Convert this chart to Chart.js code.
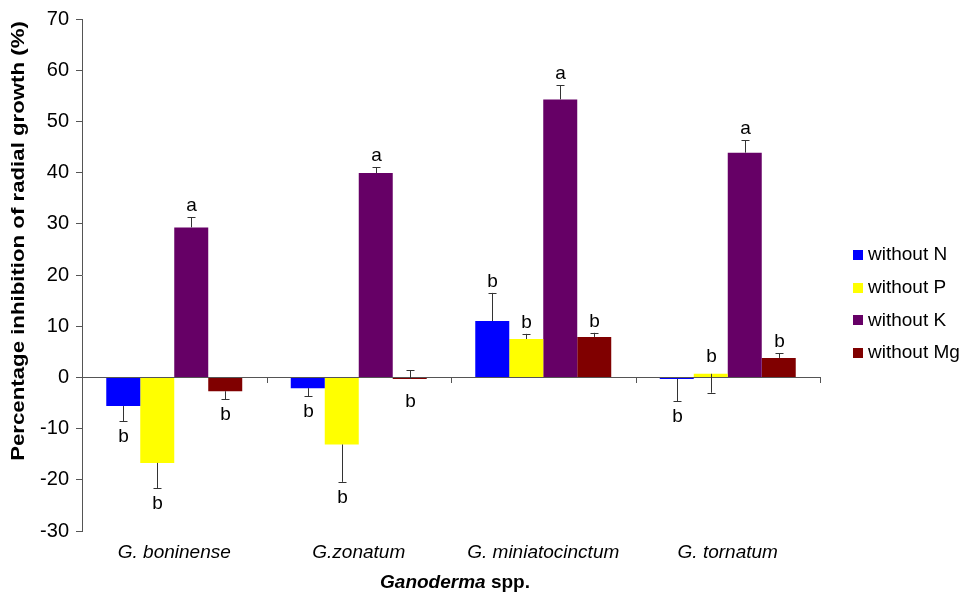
<!DOCTYPE html>
<html>
<head>
<meta charset="utf-8">
<script src="https://cdn.jsdelivr.net/npm/chart.js@4.4.0/dist/chart.umd.min.js"></script>
<style>
  html, body { margin: 0; padding: 0; background: #fff; }
  canvas { display: block; }
</style>
</head>
<body>
<canvas id="inhibitionChart" width="966" height="595"></canvas>
<script>
const species = ['G. boninense', 'G.zonatum', 'G. miniatocinctum', 'G. tornatum']
const seriesNames = ['without N', 'without P', 'without K', 'without Mg']
const colors = ['#0000ff', '#ffff00', '#660066', '#800000']

// mean inhibition (%) per species
const withoutN = [-5.6, -2.1, 11.0, -0.3]
const withoutP = [-16.7, -13.1, 7.5, 0.7]
const withoutK = [29.3, 39.9, 54.3, 43.9]
const withoutMg = [-2.7, -0.3, 7.9, 3.8]

// error bars, signed: negative means drawn downward
const errN = [-3.0, -1.6, 5.5, -4.4]
const errP = [-4.9, -7.3, 1.0, -3.7]
const errK = [2.0, 1.1, 2.8, 2.4]
const errMg = [-1.6, 1.7, 0.8, 0.9]

const lettersN = ['b', 'b', 'b', 'b']
const lettersP = ['b', 'b', 'b', 'b']
const lettersK = ['a', 'a', 'a', 'a']
const lettersMg = ['b', 'b', 'b', 'b']

const yMin = -30
const yMax = 70
const yStep = 10

const FONT = "'Liberation Sans', Arial, sans-serif"
const TEXT = '#000'

const values = [withoutN, withoutP, withoutK, withoutMg]
const errors = [errN, errP, errK, errMg]
const letters = [lettersN, lettersP, lettersK, lettersMg]

const datasets = seriesNames.map((name, i) => ({
    label: name,
    data: values[i],
    errors: errors[i],
    letters: letters[i],
    backgroundColor: colors[i],
    borderWidth: 0,
    categoryPercentage: 0.737,
    barPercentage: 1.0
}))

// zero line with tick marks between the species groups
const zeroLine = {
    id: 'zeroLine',
    beforeDatasetsDraw(chart) {
        const ctx = chart.ctx
        const area = chart.chartArea
        const y0 = chart.scales.y.getPixelForValue(0)
        const xs = chart.scales.x
        const half = (xs.getPixelForValue(1) - xs.getPixelForValue(0)) / 2
        ctx.save()
        ctx.strokeStyle = '#555'
        ctx.lineWidth = 1
        ctx.beginPath()
        ctx.moveTo(area.left, Math.round(y0) + 0.5)
        ctx.lineTo(area.right, Math.round(y0) + 0.5)
        for (let i = 0; i < species.length; i++) {
            const x = Math.round(xs.getPixelForValue(i) + half) + 0.5
            ctx.moveTo(x, Math.round(y0))
            ctx.lineTo(x, Math.round(y0) + 6)
        }
        ctx.stroke()
        ctx.restore()
    }
}

const errorBars = {
    id: 'errorBars',
    afterDatasetsDraw(chart) {
        const ctx = chart.ctx
        const ys = chart.scales.y
        ctx.save()
        ctx.strokeStyle = '#333'
        ctx.lineWidth = 1
        ctx.fillStyle = TEXT
        ctx.font = '19px ' + FONT
        ctx.textAlign = 'center'
        ctx.textBaseline = 'alphabetic'
        chart.data.datasets.forEach((ds, di) => {
            const meta = chart.getDatasetMeta(di)
            meta.data.forEach((bar, i) => {
                const v = ds.data[i]
                const e = ds.errors[i]
                const x = Math.round(bar.x) + 0.5
                const yv = ys.getPixelForValue(v)
                const ye = ys.getPixelForValue(v + e)
                ctx.beginPath()
                ctx.moveTo(x, yv)
                ctx.lineTo(x, ye)
                ctx.moveTo(x - 4, Math.round(ye) + 0.5)
                ctx.lineTo(x + 4, Math.round(ye) + 0.5)
                ctx.stroke()
                if (v >= 0) {
                    const top = e > 0 ? ye - 6 : yv - 12
                    ctx.fillText(ds.letters[i], x, top)
                } else {
                    const bottom = e < 0 ? ye + 7 : yv + 14
                    ctx.fillText(ds.letters[i], x, bottom + 14)
                }
            })
        })
        ctx.restore()
    }
}

const titlesAndLegend = {
    id: 'titlesAndLegend',
    afterDraw(chart) {
        const ctx = chart.ctx
        ctx.save()
        ctx.fillStyle = TEXT

        // y axis title, stretched along its length like the original
        ctx.save()
        ctx.translate(19, 241)
        ctx.rotate(-Math.PI / 2)
        ctx.scale(1.17, 1)
        ctx.font = 'bold 19px ' + FONT
        ctx.textAlign = 'center'
        ctx.textBaseline = 'middle'
        ctx.fillText('Percentage inhibition of radial growth (%)', 0, 0)
        ctx.restore()

        // x axis title, genus in italics
        ctx.textBaseline = 'middle'
        ctx.textAlign = 'left'
        const part1 = 'Ganoderma'
        const part2 = ' spp.'
        ctx.font = 'italic bold 19px ' + FONT
        const w1 = ctx.measureText(part1).width
        ctx.font = 'bold 19px ' + FONT
        const w2 = ctx.measureText(part2).width
        let x = 455 - (w1 + w2) / 2
        ctx.font = 'italic bold 19px ' + FONT
        ctx.fillText(part1, x, 583)
        ctx.font = 'bold 19px ' + FONT
        ctx.fillText(part2, x + w1, 583)

        // legend
        ctx.font = '19px ' + FONT
        chart.data.datasets.forEach((ds, i) => {
            const cy = 255 + i * 32.7
            ctx.fillStyle = ds.backgroundColor
            ctx.fillRect(853, Math.round(cy - 5), 10, 10)
            ctx.fillStyle = TEXT
            ctx.fillText(ds.label, 868, cy)
        })
        ctx.restore()
    }
}

const chart = new Chart(document.getElementById('inhibitionChart'), {
    type: 'bar',
    data: {
        labels: species,
        datasets: datasets
    },
    options: {
        responsive: false,
        animation: false,
        layout: { padding: { left: 0, right: 146, top: 16, bottom: 0 } },
        plugins: {
            legend: { display: false },
            tooltip: { enabled: false }
        },
        scales: {
            x: {
                grid: { display: false, drawTicks: false },
                border: { display: false },
                ticks: {
                    color: TEXT,
                    padding: 10,
                    font: { family: FONT, size: 19, style: 'italic' }
                },
                afterFit(scale) { scale.height = 64 }
            },
            y: {
                min: yMin,
                max: yMax,
                ticks: {
                    stepSize: yStep,
                    color: TEXT,
                    padding: 7,
                    font: { family: FONT, size: 20 }
                },
                grid: {
                    drawOnChartArea: false,
                    drawTicks: true,
                    tickLength: 6,
                    color: '#555'
                },
                border: { display: true, color: '#555', width: 1 },
                afterFit(scale) { scale.width = 82 }
            }
        }
    },
    plugins: [zeroLine, errorBars, titlesAndLegend]
})
</script>
</body>
</html>
